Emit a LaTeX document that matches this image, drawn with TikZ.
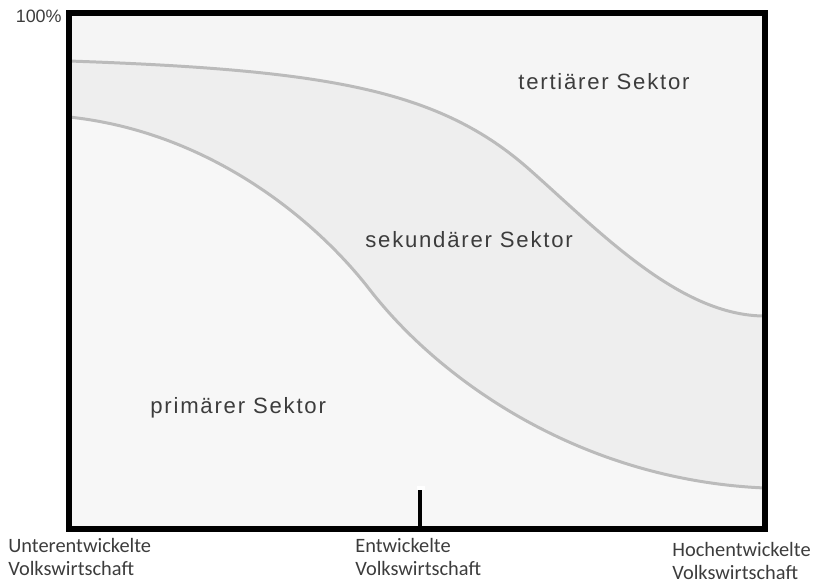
\documentclass[tikz,border=0pt]{standalone}
\usepackage{fontspec}
\setmainfont{Carlito}
\newfontfamily\sektorfont[LetterSpace=8]{Liberation Sans}
\newfontfamily\achsenfont{Liberation Sans}
\usetikzlibrary{positioning}

\definecolor{tertiaer}{HTML}{F5F5F5}
\definecolor{sekundaer}{HTML}{EEEEEE}
\definecolor{primaer}{HTML}{F7F7F7}
\definecolor{grenze}{HTML}{BBBBBB}
\definecolor{schrift}{HTML}{3C3C3C}

\begin{document}
\begin{tikzpicture}[x=0.02cm,y=-0.02cm,
    sektor/.style={font=\sektorfont\fontsize{12.6}{15}\selectfont,text=schrift,inner sep=0pt,anchor=base west},
    stufe/.style={font=\fontsize{11.6}{12.8}\selectfont,text=schrift,align=left,inner sep=0pt,anchor=north west},
    kurve/.style={draw=grenze,line width=1.7pt},
    rahmen/.style={draw=black,line width=3.4pt}]
  \useasboundingbox (0,0) rectangle (819,583);

  % Stuetzpunkte der Grenzen
  \coordinate (o1) at (69,61);  \coordinate (o2) at (530,170); \coordinate (o3) at (765,316);
  \coordinate (u1) at (69,117); \coordinate (u2) at (370,290); \coordinate (u3) at (765,488);
  \coordinate (ul) at (69,529); \coordinate (ur) at (765,529);

  % Flaechen
  \fill[tertiaer] (69,13) rectangle (ur);
  \fill[sekundaer] (o1) .. controls (330,70) and (440,90) .. (o2)
      .. controls (600,232) and (680,316) .. (o3) -- (ur) -- (ul) -- cycle;
  \fill[primaer] (u1) .. controls (210,132) and (316,220) .. (u2)
      .. controls (440,380) and (580,480) .. (u3) -- (ur) -- (ul) -- cycle;

  % Grenzen
  \draw[kurve] (o1) .. controls (330,70) and (440,90) .. (o2)
      .. controls (600,232) and (680,316) .. (o3);
  \draw[kurve] (u1) .. controls (210,132) and (316,220) .. (u2)
      .. controls (440,380) and (580,480) .. (u3);

  % Rahmen und Marke
  \draw[rahmen] (69,13) rectangle (ur);
  \coordinate (mitte) at (420,529);
  \coordinate (marke) at (420,490);
  \draw[draw=black,line width=2.8pt] (mitte) -- (marke);
  \fill[white] (416.5,486) rectangle (424.5,489.5);

  \node[font=\achsenfont\fontsize{10.2}{12}\selectfont,text=schrift,inner sep=0pt,anchor=base east] (hundert) at (62,22) {100\%};

  \node[sektor] (tert) at (518,89)  {tertiärer Sektor};
  \node[sektor] (sek)  at (365,247) {sekundärer Sektor};
  \node[sektor] (prim) at (150,413) {primärer Sektor};

  \node[stufe] (unter) at (8,538)   {Unterentwickelte\\Volkswirtschaft};
  \node[stufe] (entw)  at (355,538) {Entwickelte\\Volkswirtschaft};
  \node[stufe] (hoch)  at (672,542) {Hochentwickelte\\Volkswirtschaft};
\end{tikzpicture}
\end{document}
